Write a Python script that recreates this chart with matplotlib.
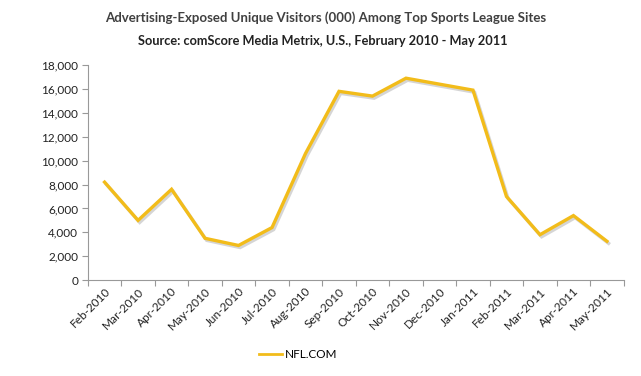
import matplotlib
matplotlib.use("Agg")
import matplotlib.pyplot as plt
import matplotlib.patheffects as pe

months = ["Feb-2010", "Mar-2010", "Apr-2010", "May-2010", "Jun-2010", "Jul-2010",
          "Aug-2010", "Sep-2010", "Oct-2010", "Nov-2010", "Dec-2010", "Jan-2011",
          "Feb-2011", "Mar-2011", "Apr-2011", "May-2011"]
nfl = [8200, 5000, 7600, 3500, 2900, 4400, 10600, 15800, 15400, 16900, 16400, 15900,
       7000, 3800, 5400, 3250]

plt.rcParams['font.family'] = ['Lato', 'DejaVu Sans']

fig = plt.figure(figsize=(6.41, 3.76), dpi=100)
ax = fig.add_axes([0.137, 0.255, 0.836, 0.572])

x = range(len(months))
ax.plot(x, nfl, color="#F2BC1A", lw=2.4, solid_joinstyle="miter", label="NFL.COM",
        path_effects=[pe.SimpleLineShadow(offset=(1.2, -1.5), shadow_color="#777777", alpha=0.3),
                      pe.Normal()])

ax.set_xlim(-0.5, len(months) - 0.5)
ax.set_ylim(0, 18000)
ax.set_yticks(range(0, 18001, 2000))
ax.set_yticklabels([f"{v:,}" for v in range(0, 18001, 2000)], fontsize=8.5, color="#222222")
ax.set_xticks([i - 0.5 for i in range(len(months) + 1)])
ax.set_xticklabels([])
ax.set_xticks(list(x), minor=True)
ax.set_xticklabels(months, minor=True, rotation=45, ha="right", rotation_mode="anchor",
                   fontsize=8.5, color="#222222")
ax.tick_params(axis="x", which="minor", length=0, pad=4)
ax.tick_params(axis="x", which="major", length=4, color="#999999", direction="out")
ax.tick_params(axis="y", length=4, color="#999999", pad=3)

for s in ["top", "right"]:
    ax.spines[s].set_visible(False)
for s in ["left", "bottom"]:
    ax.spines[s].set_color("#999999")
    ax.spines[s].set_linewidth(0.8)

fig.text(0.508, 0.952, "Advertising-Exposed Unique Visitors (000) Among Top Sports League Sites",
         ha="center", va="center", fontsize=9.5, fontweight="bold", color="#404040")
fig.text(0.503, 0.891, "Source: comScore Media Metrix, U.S., February 2010 - May 2011",
         ha="center", va="center", fontsize=9.2, fontweight="bold", color="#222222")

leg = fig.legend(loc="center", bbox_to_anchor=(0.465, 0.058), frameon=False, fontsize=8.5,
                 handlelength=2.0, handletextpad=0.2)
for h in leg.get_lines():
    h.set_linewidth(2.0)
    h.set_path_effects([])

fig.savefig("out.png", dpi=100)
